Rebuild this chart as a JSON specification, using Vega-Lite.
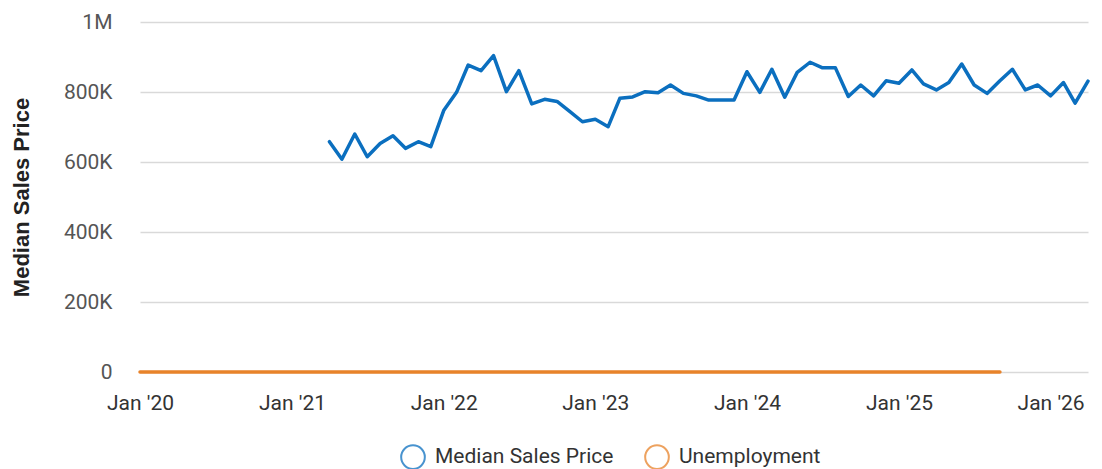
{
  "$schema": "https://vega.github.io/schema/vega-lite/v6.json",
  "width": 948,
  "height": 350,
  "autosize": "none",
  "padding": {"left": 140, "top": 22, "right": 14, "bottom": 97},
  "background": "white",
  "config": {"font": "Roboto", "view": {"stroke": null}},
  "data": {
    "values": [
      {"date": "2020-01-01", "series": "Unemployment", "value": 3.5}, {"date": "2020-02-01", "series": "Unemployment", "value": 3.5}, {"date": "2020-03-01", "series": "Unemployment", "value": 4.4},
      {"date": "2020-04-01", "series": "Unemployment", "value": 14.8}, {"date": "2020-05-01", "series": "Unemployment", "value": 13.2}, {"date": "2020-06-01", "series": "Unemployment", "value": 11.0},
      {"date": "2020-07-01", "series": "Unemployment", "value": 10.2}, {"date": "2020-08-01", "series": "Unemployment", "value": 8.4}, {"date": "2020-09-01", "series": "Unemployment", "value": 7.8},
      {"date": "2020-10-01", "series": "Unemployment", "value": 6.8}, {"date": "2020-11-01", "series": "Unemployment", "value": 6.7}, {"date": "2020-12-01", "series": "Unemployment", "value": 6.7},
      {"date": "2021-01-01", "series": "Unemployment", "value": 6.4}, {"date": "2021-02-01", "series": "Unemployment", "value": 6.2}, {"date": "2021-03-01", "series": "Unemployment", "value": 6.1},
      {"date": "2021-04-01", "series": "Unemployment", "value": 6.1}, {"date": "2021-05-01", "series": "Unemployment", "value": 5.8}, {"date": "2021-06-01", "series": "Unemployment", "value": 5.9},
      {"date": "2021-07-01", "series": "Unemployment", "value": 5.4}, {"date": "2021-08-01", "series": "Unemployment", "value": 5.1}, {"date": "2021-09-01", "series": "Unemployment", "value": 4.7},
      {"date": "2021-10-01", "series": "Unemployment", "value": 4.5}, {"date": "2021-11-01", "series": "Unemployment", "value": 4.2}, {"date": "2021-12-01", "series": "Unemployment", "value": 3.9},
      {"date": "2022-01-01", "series": "Unemployment", "value": 4.0}, {"date": "2022-02-01", "series": "Unemployment", "value": 3.8}, {"date": "2022-03-01", "series": "Unemployment", "value": 3.6},
      {"date": "2022-04-01", "series": "Unemployment", "value": 3.7}, {"date": "2022-05-01", "series": "Unemployment", "value": 3.6}, {"date": "2022-06-01", "series": "Unemployment", "value": 3.6},
      {"date": "2022-07-01", "series": "Unemployment", "value": 3.5}, {"date": "2022-08-01", "series": "Unemployment", "value": 3.6}, {"date": "2022-09-01", "series": "Unemployment", "value": 3.5},
      {"date": "2022-10-01", "series": "Unemployment", "value": 3.6}, {"date": "2022-11-01", "series": "Unemployment", "value": 3.6}, {"date": "2022-12-01", "series": "Unemployment", "value": 3.5},
      {"date": "2023-01-01", "series": "Unemployment", "value": 3.4}, {"date": "2023-02-01", "series": "Unemployment", "value": 3.6}, {"date": "2023-03-01", "series": "Unemployment", "value": 3.5},
      {"date": "2023-04-01", "series": "Unemployment", "value": 3.4}, {"date": "2023-05-01", "series": "Unemployment", "value": 3.6}, {"date": "2023-06-01", "series": "Unemployment", "value": 3.6},
      {"date": "2023-07-01", "series": "Unemployment", "value": 3.5}, {"date": "2023-08-01", "series": "Unemployment", "value": 3.8}, {"date": "2023-09-01", "series": "Unemployment", "value": 3.8},
      {"date": "2023-10-01", "series": "Unemployment", "value": 3.8}, {"date": "2023-11-01", "series": "Unemployment", "value": 3.7}, {"date": "2023-12-01", "series": "Unemployment", "value": 3.7},
      {"date": "2024-01-01", "series": "Unemployment", "value": 3.7}, {"date": "2024-02-01", "series": "Unemployment", "value": 3.9}, {"date": "2024-03-01", "series": "Unemployment", "value": 3.9},
      {"date": "2024-04-01", "series": "Unemployment", "value": 3.9}, {"date": "2024-05-01", "series": "Unemployment", "value": 4.0}, {"date": "2024-06-01", "series": "Unemployment", "value": 4.1},
      {"date": "2024-07-01", "series": "Unemployment", "value": 4.3}, {"date": "2024-08-01", "series": "Unemployment", "value": 4.2}, {"date": "2024-09-01", "series": "Unemployment", "value": 4.1},
      {"date": "2024-10-01", "series": "Unemployment", "value": 4.1}, {"date": "2024-11-01", "series": "Unemployment", "value": 4.2}, {"date": "2024-12-01", "series": "Unemployment", "value": 4.1},
      {"date": "2025-01-01", "series": "Unemployment", "value": 4.0}, {"date": "2025-02-01", "series": "Unemployment", "value": 4.1}, {"date": "2025-03-01", "series": "Unemployment", "value": 4.2},
      {"date": "2025-04-01", "series": "Unemployment", "value": 4.2}, {"date": "2025-05-01", "series": "Unemployment", "value": 4.2}, {"date": "2025-06-01", "series": "Unemployment", "value": 4.1},
      {"date": "2025-07-01", "series": "Unemployment", "value": 4.2}, {"date": "2025-08-01", "series": "Unemployment", "value": 4.3}, {"date": "2025-09-01", "series": "Unemployment", "value": 4.4},
      {"date": "2021-04-01", "series": "Median Sales Price", "value": 658000},
      {"date": "2021-05-01", "series": "Median Sales Price", "value": 608000},
      {"date": "2021-06-01", "series": "Median Sales Price", "value": 680000},
      {"date": "2021-07-01", "series": "Median Sales Price", "value": 615000},
      {"date": "2021-08-01", "series": "Median Sales Price", "value": 653000},
      {"date": "2021-09-01", "series": "Median Sales Price", "value": 675000},
      {"date": "2021-10-01", "series": "Median Sales Price", "value": 639000},
      {"date": "2021-11-01", "series": "Median Sales Price", "value": 658000},
      {"date": "2021-12-01", "series": "Median Sales Price", "value": 644000},
      {"date": "2022-01-01", "series": "Median Sales Price", "value": 747000},
      {"date": "2022-02-01", "series": "Median Sales Price", "value": 799000},
      {"date": "2022-03-01", "series": "Median Sales Price", "value": 877000},
      {"date": "2022-04-01", "series": "Median Sales Price", "value": 861000},
      {"date": "2022-05-01", "series": "Median Sales Price", "value": 904000},
      {"date": "2022-06-01", "series": "Median Sales Price", "value": 801000},
      {"date": "2022-07-01", "series": "Median Sales Price", "value": 861000},
      {"date": "2022-08-01", "series": "Median Sales Price", "value": 766000},
      {"date": "2022-09-01", "series": "Median Sales Price", "value": 779000},
      {"date": "2022-10-01", "series": "Median Sales Price", "value": 773000},
      {"date": "2022-11-01", "series": "Median Sales Price", "value": 744000},
      {"date": "2022-12-01", "series": "Median Sales Price", "value": 715000},
      {"date": "2023-01-01", "series": "Median Sales Price", "value": 722000},
      {"date": "2023-02-01", "series": "Median Sales Price", "value": 701000},
      {"date": "2023-03-01", "series": "Median Sales Price", "value": 782000},
      {"date": "2023-04-01", "series": "Median Sales Price", "value": 786000},
      {"date": "2023-05-01", "series": "Median Sales Price", "value": 801000},
      {"date": "2023-06-01", "series": "Median Sales Price", "value": 798000},
      {"date": "2023-07-01", "series": "Median Sales Price", "value": 820000},
      {"date": "2023-08-01", "series": "Median Sales Price", "value": 796000},
      {"date": "2023-09-01", "series": "Median Sales Price", "value": 789000},
      {"date": "2023-10-01", "series": "Median Sales Price", "value": 777000},
      {"date": "2023-11-01", "series": "Median Sales Price", "value": 777000},
      {"date": "2023-12-01", "series": "Median Sales Price", "value": 777000},
      {"date": "2024-01-01", "series": "Median Sales Price", "value": 858000},
      {"date": "2024-02-01", "series": "Median Sales Price", "value": 799000},
      {"date": "2024-03-01", "series": "Median Sales Price", "value": 865000},
      {"date": "2024-04-01", "series": "Median Sales Price", "value": 785000},
      {"date": "2024-05-01", "series": "Median Sales Price", "value": 856000},
      {"date": "2024-06-01", "series": "Median Sales Price", "value": 885000},
      {"date": "2024-07-01", "series": "Median Sales Price", "value": 869000},
      {"date": "2024-08-01", "series": "Median Sales Price", "value": 869000},
      {"date": "2024-09-01", "series": "Median Sales Price", "value": 787000},
      {"date": "2024-10-01", "series": "Median Sales Price", "value": 820000},
      {"date": "2024-11-01", "series": "Median Sales Price", "value": 789000},
      {"date": "2024-12-01", "series": "Median Sales Price", "value": 832000},
      {"date": "2025-01-01", "series": "Median Sales Price", "value": 825000},
      {"date": "2025-02-01", "series": "Median Sales Price", "value": 863000},
      {"date": "2025-03-01", "series": "Median Sales Price", "value": 823000},
      {"date": "2025-04-01", "series": "Median Sales Price", "value": 806000},
      {"date": "2025-05-01", "series": "Median Sales Price", "value": 827000},
      {"date": "2025-06-01", "series": "Median Sales Price", "value": 880000},
      {"date": "2025-07-01", "series": "Median Sales Price", "value": 820000},
      {"date": "2025-08-01", "series": "Median Sales Price", "value": 796000},
      {"date": "2025-09-01", "series": "Median Sales Price", "value": 832000},
      {"date": "2025-10-01", "series": "Median Sales Price", "value": 865000},
      {"date": "2025-11-01", "series": "Median Sales Price", "value": 806000},
      {"date": "2025-12-01", "series": "Median Sales Price", "value": 820000},
      {"date": "2026-01-01", "series": "Median Sales Price", "value": 789000},
      {"date": "2026-02-01", "series": "Median Sales Price", "value": 827000},
      {"date": "2026-03-01", "series": "Median Sales Price", "value": 768000},
      {"date": "2026-04-01", "series": "Median Sales Price", "value": 831000}
    ]
  },
  "mark": {"type": "line", "strokeWidth": 3.5, "strokeCap": "round", "strokeJoin": "round"},
  "encoding": {
    "x": {
      "field": "date", "type": "temporal",
      "scale": {"type": "utc", "nice": false, "domain": [{"year": 2020, "month": 1, "date": 1, "utc": true}, {"year": 2026, "month": 4, "date": 1, "utc": true}]},
      "axis": {"title": null, "grid": false, "domain": false, "ticks": false, "labelExpr": "utcFormat(datum.value, \"%b '%y\")", "tickCount": {"interval": "year", "step": 1}, "labelAlign": "center", "labelFontSize": 21, "labelColor": "#333333", "labelPadding": 20, "labelFont": "Roboto", "labelFlush": false, "labelOverlap": false}
    },
    "y": {
      "field": "value", "type": "quantitative",
      "scale": {"domain": [0, 1000000], "nice": false},
      "axis": {"title": "Median Sales Price", "titleFont": "Liberation Sans", "titleFontSize": 22, "titleFontWeight": "bold", "titleColor": "#222222", "titlePadding": 30, "values": [0, 200000, 400000, 600000, 800000, 1000000], "labelExpr": "datum.value == 0 ? '0' : (datum.value >= 1000000 ? (datum.value/1000000) + 'M' : (datum.value/1000) + 'K')", "labelFontSize": 21, "labelColor": "#555555", "labelPadding": 28, "domain": false, "ticks": false, "gridColor": "#d9d9d9", "gridWidth": 1.5, "labelFont": "Roboto"}
    },
    "color": {
      "field": "series", "type": "nominal",
      "scale": {"domain": ["Median Sales Price", "Unemployment"], "range": ["#0b6fbf", "#e8832a"]},
      "legend": {"title": null, "orient": "none", "legendX": 260, "legendY": 422, "direction": "horizontal", "symbolType": "circle", "symbolSize": 560, "symbolStrokeWidth": 2, "symbolFillColor": "transparent", "symbolOpacity": 0.75, "labelFontSize": 21, "labelColor": "#333333", "labelFont": "Roboto", "labelLimit": 400, "columnPadding": 27, "labelOffset": 9}
    }
  }
}
